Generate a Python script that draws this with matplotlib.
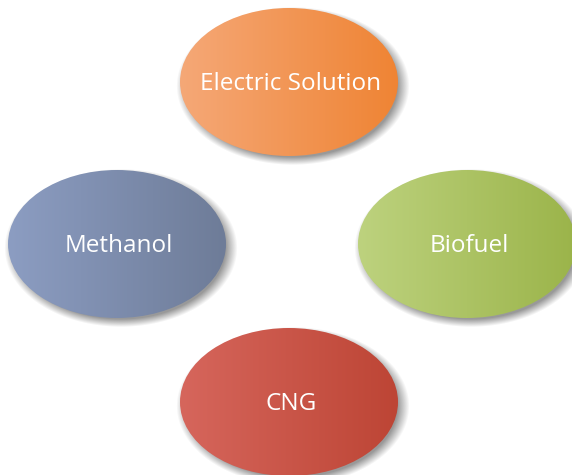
import numpy as np
import matplotlib.pyplot as plt
from matplotlib.patches import Ellipse
from matplotlib.colors import to_rgb

# Datos del diagrama
etiquetas = ['Electric Solution', 'Methanol', 'Biofuel', 'CNG']
color_izq = ['#f5a877', '#8c9dc2', '#bdd27e', '#d6665c']
color_der = ['#ef8434', '#6e7c98', '#9bb44a', '#bd4535']

# Disposicion (pixeles de la imagen)
centros = [(289, 82), (117, 244), (467, 244), (289, 402)]
ancho, alto = 218, 148

W, H = 572, 475
fig = plt.figure(figsize=(W / 100, H / 100), dpi=100)
ax = fig.add_axes([0, 0, 1, 1])
ax.set_xlim(0, W)
ax.set_ylim(H, 0)
ax.axis('off')

# Sombra difuminada (desplazada abajo a la derecha)
yy, xx = np.mgrid[0:H, 0:W] + 0.5
sombra = np.zeros((H, W))
for cx, cy in centros:
    r = np.sqrt(((xx - cx - 4) / (ancho / 2)) ** 2 + ((yy - cy - 4) / (alto / 2)) ** 2)
    sombra = np.maximum(sombra, np.clip((1.07 - r) / 0.11, 0, 1))
img_sombra = np.zeros((H, W, 4))
img_sombra[..., 3] = sombra * 0.4
ax.imshow(img_sombra, extent=(0, W, H, 0), zorder=1, interpolation='bilinear')

# Elipses con degradado horizontal
t = np.linspace(0, 1, 256)
for nombre, (cx, cy), c1, c2 in zip(etiquetas, centros, color_izq, color_der):
    c1, c2 = np.array(to_rgb(c1)), np.array(to_rgb(c2))
    grad = (c1[None, :] * (1 - t[:, None]) + c2[None, :] * t[:, None])[None, :, :]
    elipse = Ellipse((cx, cy), ancho, alto, facecolor='none', edgecolor='none')
    ax.add_patch(elipse)
    im = ax.imshow(grad, extent=(cx - ancho / 2, cx + ancho / 2, cy + alto / 2, cy - alto / 2),
                   aspect='auto', zorder=2, interpolation='bilinear')
    im.set_clip_path(elipse)
    ax.text(cx + 2, cy + 2, nombre, color='white', fontsize=17.5, family='Open Sans',
            ha='center', va='center', zorder=3)

ax.set_xlim(0, W)
ax.set_ylim(H, 0)
fig.savefig('out.png', dpi=100)
